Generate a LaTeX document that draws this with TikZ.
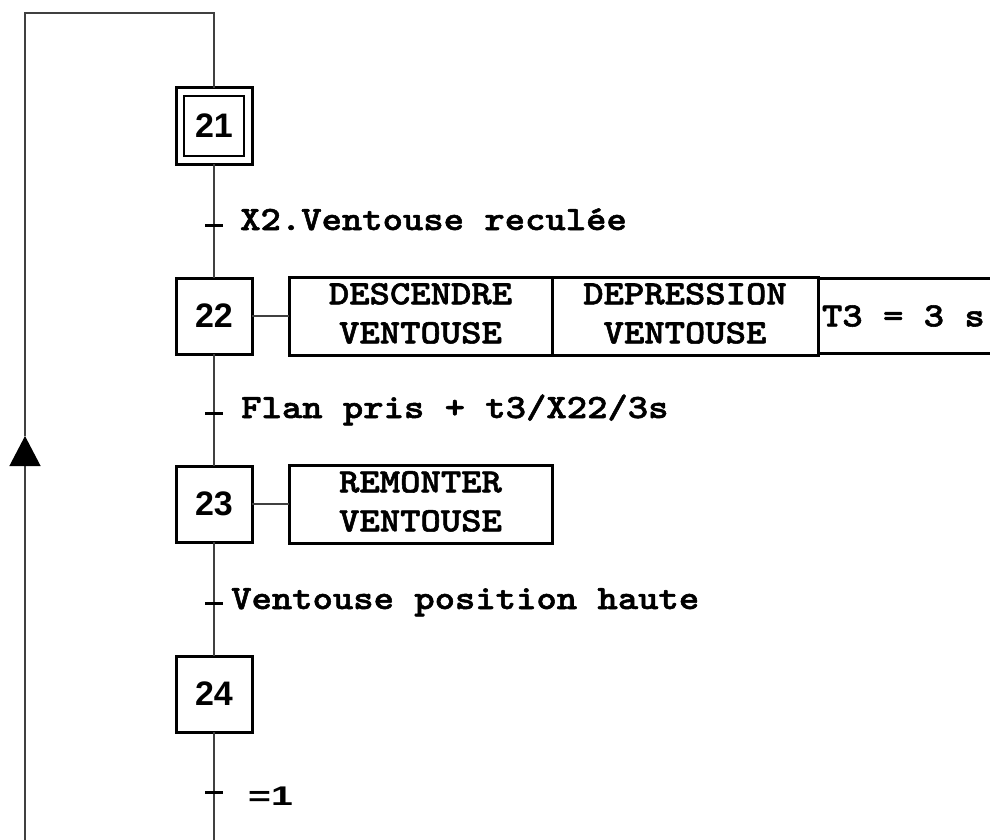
\documentclass[tikz,border=0pt]{standalone}
\usepackage{fontspec}
\usepackage{graphicx}
\usepackage{tikz}
\usetikzlibrary{arrows.meta,positioning,calc}
\newfontfamily\arialfont{Liberation Sans}
\newfontfamily\courfont{lmmonolt10-bold.otf}[FakeStretch=1.14,FakeBold=1.6]
\newcommand{\twolines}[2]{\begin{tabular}{@{}c@{}}#1\\#2\end{tabular}}

\begin{document}
\begin{tikzpicture}[x=1pt,y=-1pt,
  stepbox/.style={draw,line width=3pt,minimum size=76pt,inner sep=0pt,outer sep=0pt,font=\arialfont\bfseries\fontsize{34}{40}\selectfont},
  actbox/.style={draw,line width=3pt,minimum height=75pt,inner sep=0pt,outer sep=0pt,font=\courfont\fontsize{34}{39}\selectfont},
  link/.style={line width=1.2pt,black!75},
  tick/.style={line width=3pt},
  cond/.style={anchor=base west,inner sep=0pt,font=\courfont\fontsize{34}{39}\selectfont}]
\useasboundingbox (0,0) rectangle (990,840);
\clip (0,0) rectangle (990,840);

% steps
\node[stepbox] (s21) at (214,126) {21};
\draw[line width=1.2pt] ([shift={(8,8)}]s21.north west) rectangle ([shift={(-8,-8)}]s21.south east);
\node[stepbox] (s22) at (214,316) {22};
\node[stepbox] (s23) at (214,504) {23};
\node[stepbox] (s24) at (214,694) {24};

% actions
\node[actbox,minimum width=263pt,right=37pt of s22] (a22a) {\twolines{DESCENDRE}{VENTOUSE}};
\node[actbox,minimum width=266pt,right=0pt of a22a] (a22b) {\twolines{DEPRESSION}{VENTOUSE}};
\node[actbox,minimum width=190pt,right=0pt of a22b] (a22c) {\makebox[182pt][l]{T3 = 3 s}};
\node[actbox,minimum width=263pt,right=37pt of s23] (a23) {\twolines{REMONTER}{VENTOUSE}};
\draw[link] (s22) -- (a22a);
\draw[link] (s23) -- (a23);

% links
\draw[link] (s21) -- (s22);
\draw[link] (s22) -- (s23);
\draw[link] (s23) -- (s24);
\coordinate (loopbot) at (214,860);
\coordinate (looptip) at (25,436);
\coordinate (looptop) at (214,13);
\draw[link] (s24) -- (loopbot);
\draw[link,-{Triangle[width=31pt,length=30pt,black]}] (loopbot) -| (looptip);
\draw[link] (looptip) |- (looptop) -- (s21);

% transitions
\coordinate (t1) at (214,225);
\coordinate (t2) at (214,413);
\coordinate (t3) at (214,603);
\coordinate (t4) at (214,792);
\foreach \t in {t1,t2,t3,t4}
  \draw[tick] ([xshift=-9pt]\t) -- ([xshift=9pt]\t);
\node[cond] (c1) at (240,230) {X2.Ventouse reculée};
\node[cond] (c2) at (241,418) {Flan pris + t3/X22/3s};
\node[cond] (c3) at (231,609) {Ventouse position haute};
\node[cond,font=\arialfont\bfseries\fontsize{27}{32}\selectfont] (c4) at (248,805) {\scalebox{1.45}[1]{=1}};
\end{tikzpicture}
\end{document}
